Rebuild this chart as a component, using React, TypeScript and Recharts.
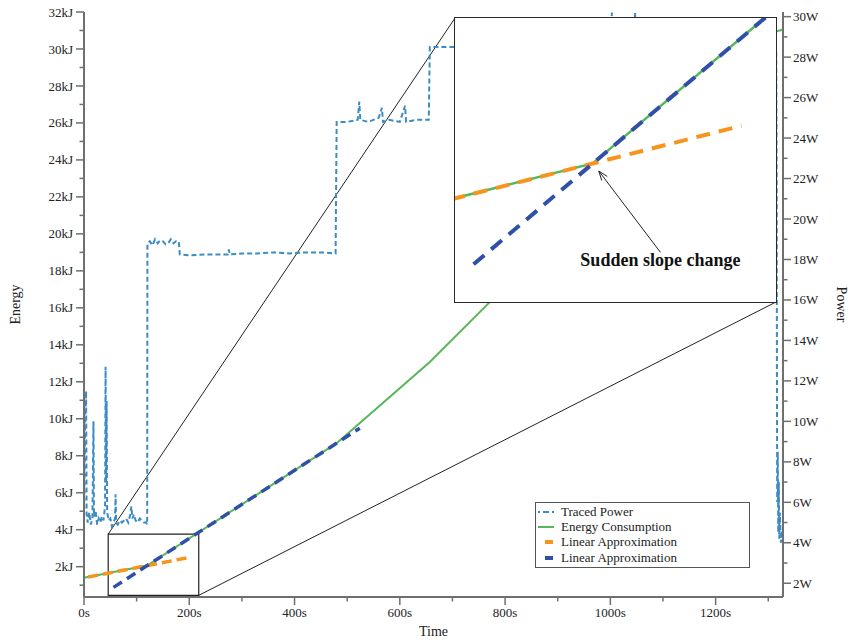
import React from 'react';
import { LineChart, Line, XAxis, YAxis, ReferenceArea, ReferenceLine } from 'recharts';

// Traced power (W), right axis
const powerTimes = [
  0, 2, 4, 5, 7, 10, 13, 16, 18, 19, 22, 25, 28, 31, 34, 37, 40, 41, 42, 43, 44, 47, 50, 53, 56, 59, 60, 61, 64, 68,
  72, 76, 80, 84, 88, 90, 92, 95, 98, 102, 106, 110, 114, 118, 120, 120.5, 125, 130, 135, 140, 145, 150, 155, 160,
  165, 170, 175, 180, 182, 200, 230, 260, 273, 275, 277, 300, 330, 360, 390, 420, 450, 478, 480, 500, 520, 523, 525,
  540, 560, 566, 568, 580, 600, 610, 612, 630, 655, 657, 680, 705, 800, 900, 1000, 1003, 1005, 1045, 1047, 1049, 1100,
  1200, 1300, 1313, 1315, 1316, 1316.5, 1317, 1318, 1319, 1320, 1321, 1322, 1324, 1326, 1328,
];
const powerWatts = [
  5.2, 9.5, 11.5, 5.4, 5.0, 5.5, 4.9, 5.2, 10.0, 5.3, 5.6, 4.9, 5.2, 5.0, 5.3, 5.1, 5.8, 12.7, 7.0, 11.0, 5.5, 5.1,
  5.2, 4.8, 5.0, 5.2, 6.4, 5.0, 4.9, 5.1, 5.0, 5.1, 5.2, 5.0, 5.4, 5.8, 5.2, 5.4, 5.1, 5.0, 5.2, 5.1, 5.0, 5.0, 4.9,
  18.8, 18.9, 18.7, 19.0, 18.8, 18.95, 18.9, 18.75, 18.8, 19.0, 18.8, 18.9, 18.9, 18.25, 18.2, 18.25, 18.25, 18.25,
  18.5, 18.25, 18.3, 18.3, 18.35, 18.3, 18.35, 18.35, 18.3, 24.8, 24.8, 24.9, 25.8, 24.9, 24.8, 25.0, 25.5, 24.8,
  24.9, 24.8, 25.6, 24.8, 24.9, 24.9, 28.5, 28.5, 28.5, 28.6, 28.5, 28.5, 30.2, 28.5, 28.5, 30.2, 28.5, 28.5, 28.6,
  28.5, 28.5, 28.4, 22.0, 12.0, 6.0, 8.5, 4.5, 7.0, 4.2, 5.5, 4.0, 4.6, 4.3,
];

// Energy consumption (kJ), left axis
const energyTimes = [0, 120, 480, 657, 767, 1316, 1328];
const energyKJ = [1.4, 2.06, 8.68, 13.07, 16.2, 30.95, 31.05];

// Linear approximations (kJ)
const slowFitTimes = [8, 200];
const slowFitKJ = [1.44, 2.5];
const fastFitTimes = [56, 524];
const fastFitKJ = [0.88, 9.49];

const energyTicks = Array.from({ length: 32 }, (_, i) => i + 1);
const powerTicks = Array.from({ length: 28 }, (_, i) => i + 2).concat([30]);
const timeTicks = Array.from({ length: 14 }, (_, i) => i * 100);

// zoom window (s, kJ) shown in the inset
const zoomT = [46, 218];
const zoomE = [0.45, 3.76];
// inset corners in main-chart data units
const insetTopLeft = { x: 705, y: 31.68 };
const insetBottomRight = { x: 1315, y: 16.32 };

const zip = (ts: number[], vs: number[], key: string) => ts.map((t, i) => ({ t, [key]: vs[i] }));

const powerData = zip(powerTimes, powerWatts, 'power');
const energyData = zip(energyTimes, energyKJ, 'energy');
const slowData = zip(slowFitTimes, slowFitKJ, 'slow');
const fastData = zip(fastFitTimes, fastFitKJ, 'fast');

const FONT = "'Liberation Serif', 'Times New Roman', serif";
const AXIS = '#6f6f6f';
const TEXT = '#222';
const C_POWER = '#3c8cc3';
const C_ENERGY = '#58b65a';
const C_SLOW = '#f7941d';
const C_FAST = '#3050a8';

const AxisTick = (props: any) => {
  const { x, y, payload, side, unit, step } = props;
  const v = payload.value;
  const major = v % step === 0;
  const len = major ? 8 : 4.5;
  if (side === 'left') {
    return (
      <g>
        <line x1={x - len} x2={x} y1={y} y2={y} stroke={AXIS} strokeWidth={1.5} />
        {major && (
          <text x={x - 11} y={y} dy="0.35em" textAnchor="end" fontSize={13} fill={TEXT} fontFamily={FONT}>
            {v + unit}
          </text>
        )}
      </g>
    );
  }
  if (side === 'right') {
    return (
      <g>
        <line x1={x} x2={x + len} y1={y} y2={y} stroke={AXIS} strokeWidth={1.5} />
        {major && (
          <text x={x + 10} y={y} dy="0.35em" textAnchor="start" fontSize={13} fill={TEXT} fontFamily={FONT}>
            {v + unit}
          </text>
        )}
      </g>
    );
  }
  return (
    <g>
      <line x1={x} x2={x} y1={y} y2={y + len} stroke={AXIS} strokeWidth={1.5} />
      {major && (
        <text x={x} y={y + 20} textAnchor="middle" fontSize={13} fill={TEXT} fontFamily={FONT}>
          {v + unit}
        </text>
      )}
    </g>
  );
};

const ArrowShape = (p: any) => {
  const { x1, y1, x2, y2 } = p;
  const ang = Math.atan2(y2 - y1, x2 - x1);
  const hl = 10;
  const a = [x2 - hl * Math.cos(ang - 0.35), y2 - hl * Math.sin(ang - 0.35)];
  const b = [x2 - hl * Math.cos(ang + 0.35), y2 - hl * Math.sin(ang + 0.35)];
  return (
    <g>
      <line x1={x1} y1={y1} x2={x2} y2={y2} stroke="#222" strokeWidth={1} />
      <polyline points={`${a[0]},${a[1]} ${x2},${y2} ${b[0]},${b[1]}`} fill="none" stroke="#222" strokeWidth={1} />
      <text x={x1} y={y1 + 14} textAnchor="middle" fontSize={18} fontWeight="bold" fill="#111" fontFamily={FONT}>
        Sudden slope change
      </text>
    </g>
  );
};

const legendItems = [
  { name: 'Traced Power', color: C_POWER, dash: '2 3 6 3', w: 2, x1: 1, x2: 17 },
  { name: 'Energy Consumption', color: C_ENERGY, dash: undefined, w: 2, x1: 1, x2: 17 },
  { name: 'Linear Approximation', color: C_SLOW, dash: undefined, w: 4, x1: 8, x2: 16 },
  { name: 'Linear Approximation', color: C_FAST, dash: undefined, w: 4, x1: 8, x2: 16 },
];

export default function App() {
  return (
    <div style={{ position: 'absolute', left: 0, top: 0, width: 858, height: 640, background: '#fff', fontFamily: FONT }}>
      <LineChart width={858} height={640} margin={{ top: 12, right: 0, bottom: 0, left: 0 }}>
        <XAxis
          xAxisId={0}
          dataKey="t"
          type="number"
          domain={[0, 1328]}
          ticks={timeTicks}
          interval={0}
          height={43}
          tickSize={0}
          tickMargin={0}
          tickLine={false}
          stroke={AXIS}
          strokeWidth={2}
          tick={(p: any) => <AxisTick {...p} side="bottom" unit="s" step={200} />}
          label={{ value: 'Time', position: 'insideBottom', offset: 4, fill: TEXT, fontSize: 14 }}
        />
        <XAxis xAxisId="top" orientation="top" type="number" domain={[0, 1328]} height={0} tick={false} tickLine={false} stroke={AXIS} strokeWidth={2} />
        <YAxis
          yAxisId="e"
          type="number"
          domain={[0.36, 32]}
          allowDataOverflow
          ticks={energyTicks}
          interval={0}
          width={84}
          tickSize={0}
          tickMargin={0}
          tickLine={false}
          stroke={AXIS}
          strokeWidth={2}
          tick={(p: any) => <AxisTick {...p} side="left" unit="kJ" step={2} />}
          label={{ value: 'Energy', angle: -90, position: 'insideLeft', offset: 15, fill: TEXT, fontSize: 14, style: { textAnchor: 'middle' } }}
        />
        <YAxis
          yAxisId="w"
          orientation="right"
          type="number"
          domain={[1.32, 30.23]}
          allowDataOverflow
          ticks={powerTicks}
          interval={0}
          width={75}
          tickSize={0}
          tickMargin={0}
          tickLine={false}
          stroke={AXIS}
          strokeWidth={2}
          tick={(p: any) => <AxisTick {...p} side="right" unit="W" step={2} />}
          label={{ value: 'Power', angle: 90, position: 'insideRight', offset: 16, fill: TEXT, fontSize: 14, style: { textAnchor: 'middle' } }}
        />

        <ReferenceLine yAxisId="e" segment={[{ x: zoomT[0], y: zoomE[1] }, insetTopLeft]} stroke="#222" strokeWidth={1} />
        <ReferenceLine yAxisId="e" segment={[{ x: zoomT[1], y: zoomE[0] }, insetBottomRight]} stroke="#222" strokeWidth={1} />
        <ReferenceArea yAxisId="e" x1={zoomT[0]} x2={zoomT[1]} y1={zoomE[0]} y2={zoomE[1]} fill="none" stroke="#222" strokeWidth={1.2} />

        <Line data={powerData} yAxisId="w" dataKey="power" type="linear" stroke={C_POWER} strokeWidth={2} strokeDasharray="5 3" dot={false} isAnimationActive={false} />
        <Line data={energyData} yAxisId="e" dataKey="energy" type="linear" stroke={C_ENERGY} strokeWidth={2} dot={false} isAnimationActive={false} />
        <Line data={slowData} yAxisId="e" dataKey="slow" type="linear" stroke={C_SLOW} strokeWidth={3.5} strokeDasharray="10 5" dot={false} isAnimationActive={false} />
        <Line data={fastData} yAxisId="e" dataKey="fast" type="linear" stroke={C_FAST} strokeWidth={3.5} strokeDasharray="10 6" dot={false} isAnimationActive={false} />
      </LineChart>

      {/* zoomed inset */}
      <div style={{ position: 'absolute', left: 454, top: 17, width: 323, height: 286, boxSizing: 'border-box', border: '1.5px solid #2a2a2a', background: '#fff' }}>
        <LineChart width={320} height={283} margin={{ top: 0, right: 0, bottom: 0, left: 0 }}>
          <XAxis dataKey="t" type="number" domain={zoomT} allowDataOverflow hide />
          <YAxis type="number" domain={zoomE} allowDataOverflow hide />
          <Line data={energyData} dataKey="energy" type="linear" stroke={C_ENERGY} strokeWidth={2.5} dot={false} isAnimationActive={false} />
          <Line data={slowData} dataKey="slow" type="linear" stroke={C_SLOW} strokeWidth={4} strokeDasharray="14 9" dot={false} isAnimationActive={false} />
          <Line data={fastData} dataKey="fast" type="linear" stroke={C_FAST} strokeWidth={4} strokeDasharray="14 9" dot={false} isAnimationActive={false} />
          <ReferenceLine segment={[{ x: 156.4, y: 1.02 }, { x: 123.3, y: 1.97 }]} shape={ArrowShape} />
        </LineChart>
      </div>

      {/* legend */}
      <div style={{ position: 'absolute', left: 535, top: 502, width: 215, height: 66, boxSizing: 'border-box', border: '1.5px solid #555', background: '#fff', paddingTop: 1.5, fontSize: 13, color: TEXT }}>
        {legendItems.map((it, i) => (
          <div key={i} style={{ display: 'flex', alignItems: 'center', height: 15.2 }}>
            <svg width={24} height={10} style={{ marginLeft: 1 }}>
              <line x1={it.x1} x2={it.x2} y1={5} y2={5} stroke={it.color} strokeWidth={it.w} strokeDasharray={it.dash} />
            </svg>
            <span style={{ whiteSpace: 'nowrap' }}>{it.name}</span>
          </div>
        ))}
      </div>
    </div>
  );
}
